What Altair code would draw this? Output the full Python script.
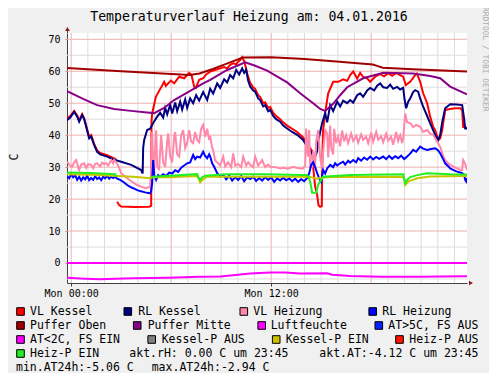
import altair as alt
import pandas as pd

MONO = "DejaVu Sans Mono"

# ---------------- data (hours since Mon 00:00, degrees C) ----------------
VLK_T1 = [-0.25, -0.06, 0.18, 0.36, 0.48, 0.66, 0.78, 0.90, 1.08, 1.20, 1.38, 1.56, 1.74, 2.16, 2.58, 2.70]
VLK_V1 = [45.3, 46.0, 47.6, 46.2, 44.6, 46.6, 45.3, 43.0, 39.4, 40.0, 37.3, 35.2, 34.4, 33.7, 32.7, 32.4]
VLK_T2 = [2.76, 2.88, 3.00, 3.84, 4.68, 4.80, 4.82, 4.86, 5.08, 5.38, 5.58, 5.68, 5.98, 6.18, 6.48, 6.78,
          7.08, 7.22, 7.38, 7.48, 7.68, 7.92, 8.10, 8.34, 8.58, 8.94, 9.18, 9.36, 9.54, 9.72, 9.90, 10.02,
          10.14, 10.26, 10.38, 10.44, 10.56, 10.74, 10.92, 11.04, 11.22, 11.34, 11.52, 11.64, 11.82, 11.94,
          12.12, 12.30, 12.54, 12.72, 12.96, 13.26, 13.56, 13.92, 14.16, 14.34, 14.46, 14.52, 14.64, 14.76,
          14.84, 14.94, 15.04, 15.06, 15.12, 15.24, 15.42, 15.72, 16.02, 16.32, 16.56, 16.74, 16.92, 17.16,
          17.34, 17.52, 17.76, 17.94, 18.24, 18.54, 18.78, 19.02, 19.26, 19.50, 19.74, 19.92, 20.08, 20.34,
          20.64, 20.74, 20.94, 21.12, 21.36, 21.54, 21.72, 21.84, 22.02, 22.14, 22.26, 22.44, 22.74, 23.04,
          23.34, 23.46, 23.52, 23.75]
VLK_V2 = [19.2, 18.1, 17.7, 17.5, 17.6, 17.9, 44.2, 46.8, 52.0, 54.8, 56.7, 55.4, 57.1, 56.2, 58.3, 57.8,
          59.5, 58.8, 55.2, 54.8, 57.3, 57.8, 59.0, 59.9, 60.3, 60.9, 61.3, 60.9, 62.0, 62.5, 62.2, 63.0,
          63.5, 64.4, 63.2, 62.0, 59.3, 56.4, 55.0, 54.5, 52.5, 52.0, 50.0, 50.3, 48.5, 48.8,
          47.0, 46.0, 45.0, 44.0, 43.0, 42.0, 41.0, 39.3, 37.2, 36.0, 35.0, 30.0, 23.9, 21.3,
          18.1, 17.6, 17.8, 30.0, 41.6, 47.0, 53.1, 56.7, 56.7, 57.5, 57.0, 58.8, 59.9, 57.7,
          59.5, 58.2, 57.8, 56.7, 58.3, 59.1, 58.4, 59.4, 58.6, 59.5, 58.8, 58.3, 55.7, 56.7,
          58.8, 59.3, 56.7, 53.1, 50.0, 45.8, 42.6, 41.6, 38.5, 39.0, 41.6, 47.9, 48.2, 48.4,
          48.4, 47.9, 42.6, 42.3]

RLK_T = [-0.25, -0.06, 0.18, 0.36, 0.48, 0.66, 0.78, 0.90, 1.08, 1.20, 1.38, 1.56, 1.74, 2.16, 2.58, 3.00,
         3.60, 4.20, 4.29, 4.32, 4.38, 4.56, 4.74, 4.92, 5.16, 5.34, 5.52, 5.64, 5.76, 5.94, 6.06, 6.24,
         6.36, 6.54, 6.66, 6.84, 6.96, 7.14, 7.32, 7.50, 7.68, 7.92, 8.16, 8.34, 8.52, 8.76, 8.94, 9.18,
         9.36, 9.54, 9.72, 9.90, 10.08, 10.26, 10.38, 10.50, 10.62, 10.74, 10.92, 11.04, 11.22, 11.34,
         11.52, 11.64, 11.82, 11.94, 12.12, 12.30, 12.54, 12.72, 12.96, 13.26, 13.56, 13.92, 14.16, 14.34,
         14.46, 14.64, 14.76, 14.82, 14.94, 15.06, 15.24, 15.36, 15.54, 15.72, 15.96, 16.14, 16.32, 16.56,
         16.74, 16.92, 17.16, 17.34, 17.52, 17.76, 17.94, 18.18, 18.36, 18.54, 18.72, 18.96, 19.14, 19.32,
         19.56, 19.74, 19.92, 20.01, 20.10, 20.22, 20.34, 20.52, 20.64, 20.82, 20.94, 21.12, 21.36, 21.54,
         21.84, 22.02, 22.14, 22.26, 22.44, 22.74, 23.10, 23.46, 23.58, 23.64, 23.75]
RLK_V = [44.7, 45.5, 47.3, 45.8, 44.2, 46.3, 45.0, 42.6, 39.0, 39.6, 36.9, 34.8, 34.0, 33.3, 32.3, 31.7,
         30.7, 29.1, 28.0, 36.0, 38.5, 41.6, 42.0, 43.8, 45.8, 47.0, 45.5, 48.5, 46.5, 49.5, 46.8, 50.2,
         47.5, 50.5, 48.0, 51.2, 48.5, 51.5, 50.0, 52.5, 50.8, 53.5, 51.0, 54.5, 53.0, 56.2, 54.8, 57.5,
         56.5, 58.8, 57.8, 60.4, 59.0, 60.9, 59.5, 60.5, 57.0, 55.2, 54.0, 53.6, 51.5, 51.0,
         49.0, 49.4, 47.5, 47.9, 46.0, 45.0, 44.2, 43.0, 42.1, 41.0, 40.1, 38.5, 36.4, 35.2,
         34.3, 33.3, 35.0, 38.0, 41.0, 43.8, 46.9, 44.0, 49.4, 47.5, 50.5, 49.0, 50.8, 50.0,
         51.0, 50.2, 52.5, 53.1, 52.0, 54.0, 54.8, 54.0, 55.5, 56.2, 55.0, 54.8, 55.8, 54.5,
         55.1, 54.3, 54.8, 51.0, 48.4, 50.5, 51.5, 53.5, 54.1, 53.6, 51.5, 48.9, 46.0, 43.7,
         40.1, 38.5, 40.0, 44.0, 48.4, 49.7, 49.6, 49.4, 45.0, 42.1, 42.1]

VLH_T = [-0.25, -0.06, 0.06, 0.18, 0.30, 0.42, 0.48, 0.60, 0.78, 0.90, 1.02, 1.20, 1.32, 1.44, 1.56, 1.74,
         1.86, 1.98, 2.10, 2.22, 2.40, 2.52, 2.58, 2.70, 2.82, 3.00, 3.18, 3.36, 3.54, 3.78, 3.96, 4.26,
         4.50, 4.74, 4.80, 4.86, 4.92, 4.98, 5.04, 5.10, 5.16, 5.28, 5.34, 5.40, 5.52, 5.64, 5.76, 5.82,
         5.94, 6.06, 6.18, 6.24, 6.36, 6.48, 6.60, 6.72, 6.84, 6.96, 7.08, 7.20, 7.32, 7.44, 7.56, 7.68,
         7.80, 7.92, 8.04, 8.16, 8.28, 8.34, 8.46, 8.52, 8.64, 8.82, 8.94, 9.12, 9.24, 9.42, 9.60, 9.72,
         9.84, 10.02, 10.20, 10.32, 10.50, 10.62, 10.74, 10.92, 11.04, 11.22, 11.46, 11.64, 11.82, 11.94,
         12.24, 12.54, 12.72, 13.02, 13.32, 13.56, 13.74, 13.92, 14.04, 14.10, 14.16, 14.22, 14.28, 14.34,
         14.46, 14.52, 14.64, 14.70, 14.82, 14.94, 15.06, 15.12, 15.24, 15.36, 15.42, 15.54, 15.60, 15.72,
         15.78, 15.90, 16.02, 16.14, 16.26, 16.38, 16.50, 16.62, 16.80, 16.92, 17.10, 17.22, 17.40, 17.52,
         17.70, 17.82, 18.00, 18.12, 18.30, 18.42, 18.60, 18.72, 18.90, 19.02, 19.20, 19.32, 19.50, 19.62,
         19.74, 19.86, 19.92, 20.04, 20.16, 20.34, 20.52, 20.70, 20.94, 21.12, 21.36, 21.54, 21.72, 21.90,
         22.14, 22.32, 22.44, 22.62, 22.74, 22.98, 23.16, 23.34, 23.46, 23.52, 23.64, 23.75]
VLH_V = [31.7, 30.5, 30.1, 31.5, 32.2, 30.0, 29.1, 30.8, 31.2, 29.8, 30.9, 30.7, 29.6, 31.0, 31.2, 30.2,
         31.4, 30.9, 31.3, 30.5, 32.2, 31.2, 32.2, 31.5, 30.5, 28.1, 27.3, 26.5, 25.8, 25.0, 24.4, 23.8,
         23.4, 23.9, 30.0, 41.1, 32.0, 27.5, 36.0, 41.5, 30.5, 29.0, 35.0, 40.0, 31.5, 30.1, 38.0, 40.6,
         33.3, 31.5, 39.5, 41.0, 34.0, 33.3, 40.0, 41.6, 36.0, 37.5, 41.6, 38.0, 37.5, 41.0, 38.5, 37.8,
         42.0, 43.2, 39.5, 42.0, 38.5, 39.8, 36.0, 35.4, 32.0, 31.2, 30.5, 33.3, 30.2, 31.5, 30.0, 34.3,
         30.5, 31.0, 30.0, 33.3, 30.5, 31.5, 30.7, 30.0, 33.3, 30.5, 32.2, 30.0, 30.8, 30.1,
         30.0, 29.6, 29.8, 29.5, 30.1, 29.7, 29.6, 29.6, 30.5, 42.1, 35.4, 33.3, 41.6, 30.0,
         30.1, 35.0, 30.5, 38.0, 41.6, 33.0, 29.1, 35.0, 41.6, 40.6, 33.0, 43.0, 36.0, 34.0,
         42.0, 37.5, 39.5, 36.5, 41.5, 38.0, 40.0, 37.5, 40.5, 38.2, 39.8, 37.6, 40.2, 38.5,
         39.5, 37.5, 40.8, 38.0, 41.0, 38.6, 39.6, 37.8, 40.5, 38.3, 39.5, 37.0, 41.0, 38.2,
         40.0, 37.5, 39.0, 46.8, 44.0, 43.8, 42.5, 43.2, 42.6, 41.0, 41.6, 40.5, 40.1, 38.5,
         36.4, 33.5, 32.2, 31.2, 30.7, 30.0, 29.6, 29.2, 29.1, 32.2, 31.0, 29.1]

RLH_T = [-0.25, -0.12, 0.00, 0.12, 0.24, 0.36, 0.48, 0.60, 0.72, 0.84, 0.96, 1.08, 1.20, 1.32, 1.44, 1.56,
         1.68, 1.80, 1.92, 2.04, 2.16, 2.28, 2.40, 2.52, 2.64, 2.76, 2.94, 3.18, 3.36, 3.54, 3.72, 3.96,
         4.14, 4.44, 4.74, 4.80, 4.86, 4.92, 4.98, 5.10, 5.22, 5.34, 5.52, 5.70, 5.88, 6.06, 6.24, 6.42,
         6.60, 6.78, 6.96, 7.14, 7.32, 7.44, 7.56, 7.74, 7.92, 8.04, 8.16, 8.28, 8.34, 8.46, 8.58, 8.76,
         8.94, 9.12, 9.30, 9.48, 9.66, 9.84, 10.02, 10.20, 10.38, 10.56, 10.74, 10.92, 11.10, 11.28, 11.46,
         11.64, 11.82, 12.00, 12.18, 12.36, 12.54, 12.72, 12.90, 13.08, 13.26, 13.44, 13.62, 13.80, 13.98,
         14.16, 14.28, 14.40, 14.52, 14.64, 14.76, 14.88, 15.00, 15.12, 15.24, 15.36, 15.54, 15.72, 15.84,
         15.96, 16.14, 16.32, 16.44, 16.62, 16.74, 16.92, 17.10, 17.22, 17.40, 17.58, 17.76, 17.94, 18.12,
         18.30, 18.48, 18.72, 18.90, 19.08, 19.26, 19.44, 19.62, 19.80, 19.98, 20.16, 20.34, 20.52, 20.70,
         20.94, 21.12, 21.36, 21.60, 21.84, 22.02, 22.14, 22.32, 22.44, 22.62, 22.74, 22.98, 23.16, 23.34,
         23.46, 23.58, 23.64, 23.70, 23.75]
RLH_V = [27.2, 26.5, 27.8, 26.8, 27.5, 26.0, 27.0, 25.8, 26.8, 26.2, 27.3, 25.9, 26.6, 26.0, 27.2, 26.3,
         26.8, 25.9, 27.0, 26.5, 27.3, 26.4, 27.0, 26.6, 27.0, 26.4, 26.0, 25.2, 24.4, 23.8, 23.4, 22.8,
         22.5, 22.1, 21.8, 22.5, 25.0, 32.2, 27.5, 26.0, 27.5, 27.0, 27.8, 27.2, 28.3, 28.0, 29.0, 28.5,
         29.8, 30.5, 31.2, 31.5, 33.8, 32.5, 33.3, 33.0, 34.8, 33.5, 32.8, 34.0, 33.3, 31.2, 30.1, 28.1,
         27.0, 27.6, 26.2, 27.3, 25.8, 26.9, 26.0, 27.2, 25.6, 26.8, 26.3, 27.0, 25.7, 26.6, 25.8,
         26.9, 26.0, 26.8, 25.4, 26.5, 25.8, 26.7, 25.9, 26.5, 25.6, 26.4, 25.4, 26.2, 25.6,
         26.6, 28.0, 30.7, 31.5, 30.0, 28.1, 26.5, 25.4, 29.1, 28.0, 29.6, 30.7, 30.0, 31.2,
         30.5, 31.2, 31.7, 30.8, 32.0, 31.4, 32.2, 31.5, 32.8, 32.0, 33.0, 32.3, 33.3, 32.4,
         33.2, 32.6, 33.3, 32.5, 33.5, 32.6, 33.4, 32.8, 33.6, 32.5, 33.3, 34.2, 35.4, 34.8,
         36.4, 35.8, 35.4, 35.7, 35.9, 35.2, 34.3, 32.5, 31.2, 30.3, 29.6, 29.0, 28.6, 28.3,
         28.1, 27.5, 26.0, 25.5, 26.6]

PO_T = [-0.25, 3.0, 7.1, 7.7, 8.5, 9.3, 10.3, 12.0, 14.0, 16.1, 17.0, 18.1, 18.4, 18.7, 20.5, 23.75]
PO_V = [61.0, 60.0, 58.8, 59.3, 60.7, 62.3, 64.3, 64.4, 63.8, 63.0, 62.6, 62.1, 61.6, 61.1, 60.6, 59.9]

PM_T = [-0.25, 0.78, 1.56, 2.58, 3.60, 4.56, 4.98, 5.58, 6.18, 6.96, 7.92, 8.34, 9.36, 10.44, 11.0, 11.76,
        12.96, 13.74, 14.52, 14.94, 15.24, 15.72, 16.14, 16.56, 17.52, 18.72, 20.52, 21.54, 22.14, 22.74, 23.75]
PM_V = [53.8, 51.2, 49.4, 48.2, 47.6, 47.1, 46.9, 48.5, 51.0, 53.3, 56.2, 57.3, 60.4, 62.8, 61.8, 60.2,
        56.5, 53.1, 50.0, 48.2, 47.6, 49.8, 52.5, 55.0, 57.8, 59.5, 59.3, 58.5, 57.8, 55.2, 52.8]

RH_T = [-0.25, 23.75]
RH_V = [0.0, 0.0]

AT_T = [-0.25, 0.84, 1.74, 2.64, 3.72, 5.76, 7.74, 8.94, 9.72, 10.74, 11.34, 11.94, 12.84, 13.74, 15.36,
        15.66, 16.74, 18.54, 20.94, 22.14, 23.75]
AT_V = [-4.6, -4.9, -5.06, -4.95, -4.8, -4.6, -4.3, -4.2, -3.8, -3.3, -3.1, -3.0, -2.94, -3.3, -3.2,
        -3.7, -4.1, -4.3, -4.3, -4.2, -4.12]

KE_T = [-0.25, 1.74, 2.76, 3.72, 4.74, 4.92, 5.94, 7.56, 7.68, 7.74, 7.86, 8.16, 10.74, 13.74, 14.34, 14.76,
        14.94, 15.54, 19.92, 19.98, 20.04, 20.22, 20.76, 21.54, 23.75]
KE_V = [27.8, 27.5, 27.2, 27.0, 26.5, 26.9, 26.8, 27.2, 26.0, 25.2, 26.0, 27.0, 27.0, 27.0, 26.9, 26.4,
        26.6, 26.9, 27.0, 26.0, 24.4, 25.5, 26.5, 27.1, 27.2]

HE_T1 = [-0.25, 1.14, 2.64, 2.70]
HE_V1 = [28.3, 28.2, 27.8, 26.9]
HE_T2 = [4.80, 4.86, 5.94, 7.56, 7.62, 7.74, 7.86, 8.04, 9.36, 11.76, 13.74, 14.16, 14.28, 14.34, 14.46,
         14.70, 14.82, 15.00, 15.12, 16.74, 19.92, 19.98, 20.04, 20.16, 20.34, 20.76, 21.36, 22.74, 23.75]
HE_V2 = [26.7, 27.0, 27.3, 27.8, 27.0, 26.0, 26.8, 27.3, 27.8, 27.8, 27.5, 27.5, 26.5, 25.4, 22.0,
         22.0, 24.5, 26.0, 27.0, 27.5, 27.8, 26.5, 24.9, 26.0, 26.9, 27.5, 28.1, 27.8, 27.7]

LEGEND_LABELS = ["VL Kessel", "RL Kessel", "VL Heizung", "RL Heizung",
                 "Puffer Oben", "Puffer Mitte", "Luftfeuchte", "AT>5C, FS AUS",
                 "AT<2C, FS EIN", "Kessel-P AUS", "Kessel-P EIN", "Heiz-P AUS",
                 "Heiz-P EIN"]
LEGEND_COLORS = ["#FF0000", "#000080", "#FF88AA", "#0000FF",
                 "#A00000", "#880088", "#FF00FF", "#0022FF",
                 "#FF00FF", "#808080", "#CCC000", "#FF1100",
                 "#22EE22"]
INFO_TEXTS = ["akt.rH: 0.00 C um 23:45", "akt.AT:-4.12 C um 23:45",
              "min.AT24h:-5.06 C", "max.AT24h:-2.94 C"]

X_TICKS = [0, 12]
X_TICK_LABELS = ["Mon 00:00", "Mon 12:00"]
Y_TICKS = [0, 10, 20, 30, 40, 50, 60, 70]

TITLE = "Temperaturverlauf Heizung am: 04.01.2016"

# ---------------- scales / axes ----------------
XS = alt.Scale(domain=[-0.25, 23.75], nice=False, zero=False)
YS = alt.Scale(domain=[-6.26, 71.97], nice=False, zero=False)

label_expr = " : ".join(
    [f"datum.value == {v} ? '{l}'" for v, l in zip(X_TICKS[:-1], X_TICK_LABELS[:-1])]
    + [f"'{X_TICK_LABELS[-1]}'"]
)
X_AXIS = alt.Axis(values=X_TICKS, labelExpr=label_expr, title=None, grid=False,
                  tickSize=3, tickColor="#404040", domainColor="#404040",
                  labelFont=MONO, labelFontSize=10, labelColor="#000000",
                  labelPadding=2, labelFlush=False)
Y_AXIS = alt.Axis(values=Y_TICKS, title=None, grid=False, tickSize=2,
                  tickColor="#E08080", domainColor="#404040",
                  labelFont=MONO, labelFontSize=10, labelColor="#000000",
                  labelPadding=5)

DUMMY = pd.DataFrame({"k": [0]})


def line_layer(segments, color, width=2.0):
    rows = []
    for i, (ts, vs) in enumerate(segments):
        for t, v in zip(ts, vs):
            rows.append({"t": t, "v": v, "seg": i})
    df = pd.DataFrame(rows)
    return alt.Chart(df).mark_line(color=color, strokeWidth=width, clip=True).encode(
        x=alt.X("t:Q", scale=XS, axis=X_AXIS),
        y=alt.Y("v:Q", scale=YS, axis=Y_AXIS),
        detail="seg:N",
        order="t:Q",
    )


# grid
gx_minor = pd.DataFrame({"t": [h for h in range(1, 24) if h % 6]})
gx_major = pd.DataFrame({"t": [0, 6, 12, 18]})
gy_minor = pd.DataFrame({"v": list(range(-5, 70, 10))})
gy_major = pd.DataFrame({"v": list(range(0, 71, 10))})

grid = [
    alt.Chart(gx_minor).mark_rule(color="#DDDDDD", strokeWidth=1).encode(
        x=alt.X("t:Q", scale=XS, axis=X_AXIS)),
    alt.Chart(gy_minor).mark_rule(color="#DDDDDD", strokeWidth=1).encode(
        y=alt.Y("v:Q", scale=YS, axis=Y_AXIS)),
    alt.Chart(gx_major).mark_rule(color="#EBB0B0", strokeWidth=1).encode(
        x=alt.X("t:Q", scale=XS, axis=X_AXIS)),
    alt.Chart(gy_major).mark_rule(color="#EBB0B0", strokeWidth=1).encode(
        y=alt.Y("v:Q", scale=YS, axis=Y_AXIS)),
]

lines = [
    line_layer([(VLK_T1, VLK_V1), (VLK_T2, VLK_V2)], "#FF0000"),
    line_layer([(RLK_T, RLK_V)], "#000080"),
    line_layer([(VLH_T, VLH_V)], "#FF88AA"),
    line_layer([(RLH_T, RLH_V)], "#0000FF"),
    line_layer([(PO_T, PO_V)], "#A00000"),
    line_layer([(PM_T, PM_V)], "#880088"),
    line_layer([(RH_T, RH_V)], "#FF00FF"),
    line_layer([(AT_T, AT_V)], "#FF00FF"),
    line_layer([(KE_T, KE_V)], "#C8C400"),
    line_layer([(HE_T1, HE_V1), (HE_T2, HE_V2)], "#22EE22"),
]

# decorations (axis arrows)
deco = [
    alt.Chart(DUMMY).mark_rule(color="#404040").encode(
        x=alt.value(0.5), y=alt.value(-4), y2=alt.value(0)),
    alt.Chart(DUMMY).mark_point(shape="triangle-up", filled=True, color="#8B1A1A",
                                size=22, opacity=1).encode(x=alt.value(0.5), y=alt.value(-4)),
    alt.Chart(DUMMY).mark_point(shape="triangle-right", filled=True, color="#8B1A1A",
                                size=22, opacity=1).encode(x=alt.value(404), y=alt.value(250)),
]

# texts
def text(s, x, y, size=11.5, color="#000000", align="left", angle=0, baseline="middle"):
    return alt.Chart(DUMMY).mark_text(text=s, font=MONO, fontSize=size, color=color,
                                      align=align, baseline=baseline, angle=angle).encode(
        x=alt.value(x), y=alt.value(y))


texts = [
    text(TITLE, 182, -16.5, size=13.2, align="center"),
    text("C", -52, 124, size=11.5, align="center", angle=270),
    text("RRDTOOL / TOBI OETIKER", 417.5, -26, size=7.9, color="#ABABAB", angle=90),
]

# legend layout (pixel positions relative to plot origin)
SW_X = [-46.5, 60.8, 176.8, 305.7,
        -46.5, 70.2, 194.7, 311.8,
        -46.5, 84.7, 209.2, 332.5,
        -46.5]
TX_X = [-37, 71.3, 186.3, 315.3,
        -37, 80.7, 203.7, 321.3,
        -37, 94.7, 218.7, 342.3,
        -37]
ROW_Y = [278.5, 292.5, 306.5, 320.5, 334.3]

legend = []
for i, (lab, col) in enumerate(zip(LEGEND_LABELS, LEGEND_COLORS)):
    ry = ROW_Y[i // 4]
    legend.append(alt.Chart(DUMMY).mark_square(size=58, color=col, opacity=1,
                                               stroke="#000000", strokeWidth=1).encode(
        x=alt.value(SW_X[i]), y=alt.value(ry)))
    legend.append(text(lab, TX_X[i], ry + 0.5))

INFO_POS = [(62.3, ROW_Y[3]), (252.3, ROW_Y[3]), (-51, ROW_Y[4]), (84.7, ROW_Y[4])]
for s, (px, py) in zip(INFO_TEXTS, INFO_POS):
    legend.append(text(s, px, py + 0.5))

chart = alt.layer(*grid, *lines, *deco, *texts, *legend).properties(
    width=400, height=250,
    background="#F0F0F0",
    padding={"left": 59, "top": 25, "right": 22, "bottom": 90},
    autosize=alt.AutoSizeParams(type="none"),
).configure_view(fill="#FFFFFF", stroke=None)

chart.save("out.html", embed_options={"renderer": "svg", "actions": False})
